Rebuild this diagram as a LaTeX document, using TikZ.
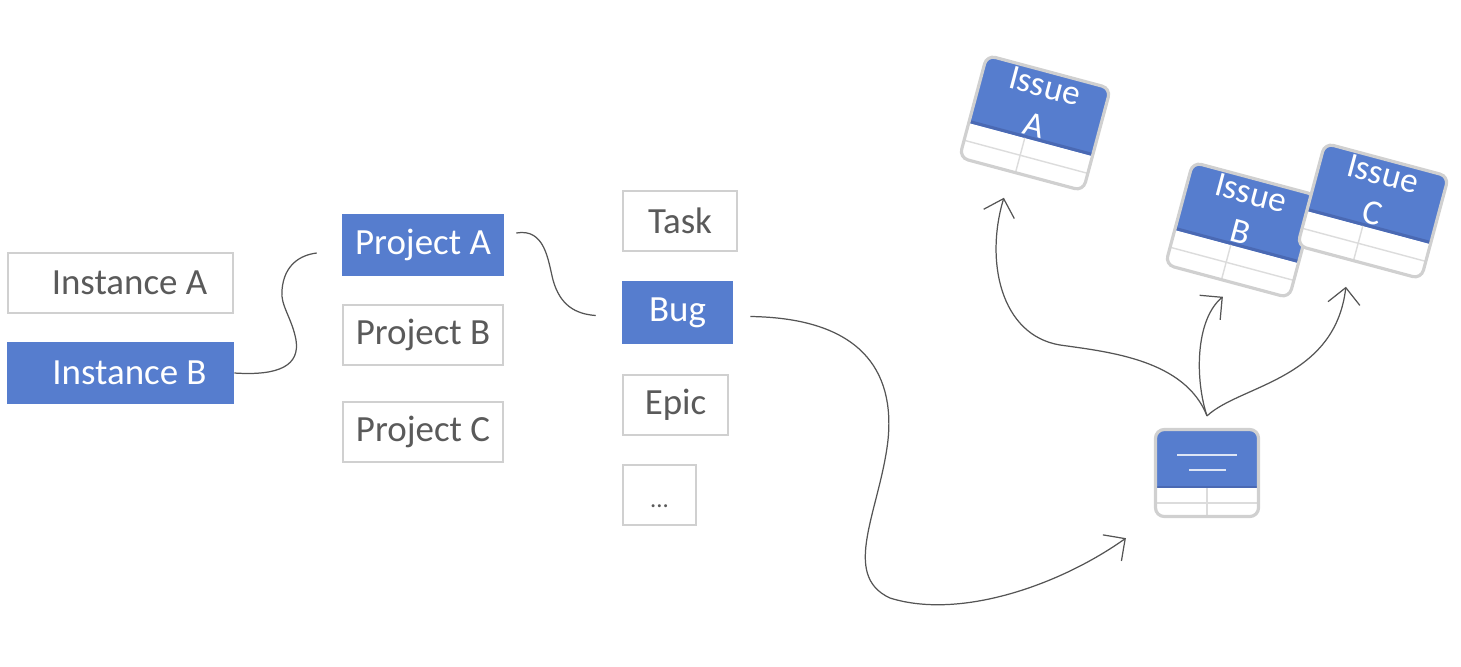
\documentclass[tikz,border=0pt]{standalone}
\usepackage{fontspec}
\setmainfont{Carlito}
\usetikzlibrary{arrows.meta}
\definecolor{jiraBlue}{HTML}{567DCE}
\definecolor{jiraDark}{HTML}{4A69B3}
\definecolor{edgeGray}{HTML}{D0D0D0}
\definecolor{textGray}{HTML}{5A5A5A}
\definecolor{wireGray}{HTML}{555555}
\definecolor{gridGray}{HTML}{DCDCDC}

% rotated issue card: name, centre, letter
\newcommand{\issuecard}[3]{%
  \begin{scope}[shift={#2},rotate=-15]
    \fill[white,rounded corners=2.5pt] (-64,-53) rectangle (64,53);
    \begin{scope}
      \clip[rounded corners=2.5pt] (-64,-53) rectangle (64,53);
      \fill[jiraBlue] (-64,-53) rectangle (64,17);
      \fill[jiraDark] (-64,14) rectangle (64,17);
      \draw[gridGray,line width=0.4pt] (-64,35) -- (64,35) (-6,17) -- (-6,53);
    \end{scope}
    \node[cardframe,minimum width=1.28cm,minimum height=1.06cm] (#1) at (0,0) {};
    \node[cardtext] (#1-txt) at (0,-18) {Issue\\#3};
  \end{scope}}

\begin{document}
\begin{tikzpicture}[x=0.01cm,y=-0.01cm,
  box/.style={draw=edgeGray,line width=0.7pt,fill=white,text=textGray,
    minimum height=0.6cm,inner sep=0pt,font=\fontsize{10.5}{12}\selectfont},
  hot/.style={box,draw=jiraBlue,fill=jiraBlue,text=white},
  cardframe/.style={draw=edgeGray,line width=0.9pt,rounded corners=2.5pt,
    inner sep=0pt,transform shape},
  cardtext/.style={text=white,align=center,inner sep=0pt,
    font=\fontsize{10}{11.5}\selectfont,transform shape},
  wire/.style={wireGray,line width=0.35pt},
  arr/.style={wire,-{Straight Barb[length=1.6mm,width=3.2mm]}}
]
  \useasboundingbox (0,0) rectangle (1461,666);

  % instances, projects, issue types
  \node[box,minimum width=2.25cm] (instA) at (120.5,283) {\hspace*{0.18cm}Instance A};
  \node[hot,minimum width=2.25cm] (instB) at (120.5,373) {\hspace*{0.18cm}Instance B};
  \node[hot,minimum width=1.6cm] (projA) at (423,245) {Project A};
  \node[box,minimum width=1.6cm] (projB) at (423,335) {Project B};
  \node[box,minimum width=1.6cm] (projC) at (423,432) {Project C};
  \node[box,minimum width=1.14cm] (task) at (680,221) {Task};
  \node[hot,minimum width=1.09cm] (bug) at (677.5,312.5) {Bug};
  \node[box,minimum width=1.05cm] (epic) at (675.5,405) {Epic};
  \node[box,minimum width=0.73cm] (more) at (659.5,495) {\raisebox{-1.4ex}{\scriptsize...}};

  \draw[wire] (instB.east) .. controls (280,376) and (300,365) .. (296,340)
    .. controls (292,318) and (280,305) .. (282,290)
    .. controls (284,265) and (300,255) .. ([shift={(-25,8)}]projA.west);
  \draw[wire] ([shift={(12,-12)}]projA.east) .. controls (545,228) and (548,260) .. (553,280)
    .. controls (560,305) and (575,314) .. ([shift={(-26,3)}]bug.west);

  % template card
  \begin{scope}[shift={(1207,473)}]
    \fill[white,rounded corners=2.5pt] (-51.5,-43.5) rectangle (51.5,43.5);
    \begin{scope}
      \clip[rounded corners=2.5pt] (-51.5,-43.5) rectangle (51.5,43.5);
      \fill[jiraBlue] (-51.5,-43.5) rectangle (51.5,15);
      \fill[jiraDark] (-51.5,12.5) rectangle (51.5,15);
      \draw[gridGray,line width=0.4pt] (-51.5,30) -- (51.5,30) (0,15) -- (0,43.5);
    \end{scope}
    \draw[white!80!jiraBlue,line width=0.5pt] (-30,-18) -- (30,-18) (-18,-3) -- (19,-3);
  \end{scope}
  \node[cardframe,minimum width=1.03cm,minimum height=0.87cm] (tpl) at (1207,473) {};

  \draw[arr] ([shift={(17,4)}]bug.east) .. controls (860,318) and (895,370) .. (888,440)
    .. controls (880,510) and (840,575) .. (890,598)
    .. controls (960,620) and (1060,585) .. ([shift={(-28,20)}]tpl.south west);

  % issues
  \issuecard{issA}{(1035,123)}{A}
  \issuecard{issB}{(1241,230)}{B}
  \issuecard{issC}{(1373,211)}{C}

  \draw[arr] ([shift={(0,-12)}]tpl.north) .. controls (1185,360) and (1110,352) .. (1060,345)
    .. controls (1000,335) and (985,260) .. ([shift={(-17,22)}]issA.south);
  \draw[arr] ([shift={(0,-12)}]tpl.north) .. controls (1195,380) and (1195,320) .. ([shift={(-4,14)}]issB.south);
  \draw[arr] ([shift={(0,-12)}]tpl.north) .. controls (1240,385) and (1335,380) .. ([shift={(-13,23)}]issC.south);
\end{tikzpicture}
\end{document}
